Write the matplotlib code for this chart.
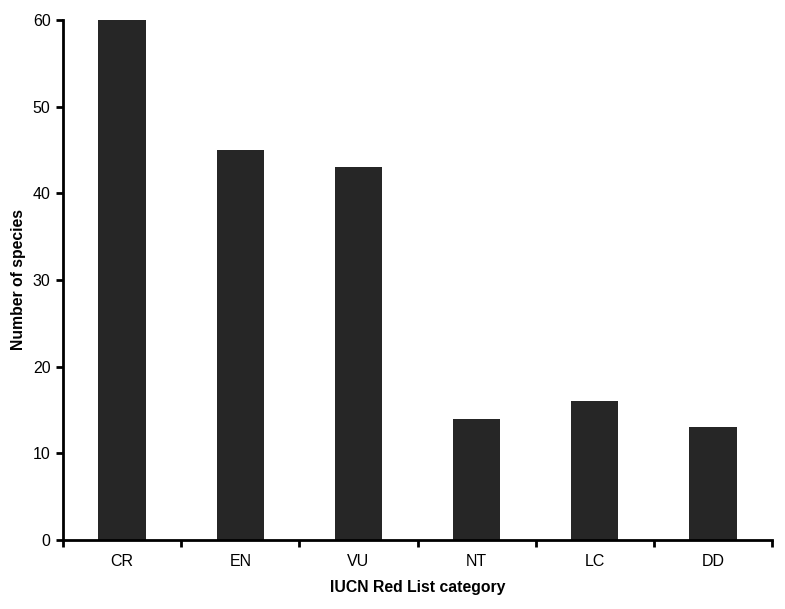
import matplotlib
matplotlib.use("Agg")
import matplotlib.pyplot as plt
import numpy as np

categories = ["CR", "EN", "VU", "NT", "LC", "DD"]
species_counts = [60, 45, 43, 14, 16, 13]

plt.rcParams["font.family"] = ["Liberation Sans", "DejaVu Sans"]

fig = plt.figure(figsize=(7.85, 6.09), dpi=100)
ax = fig.add_axes([0.0803, 0.1133, 0.9031, 0.8539])

x = np.arange(len(categories))
ax.bar(x, species_counts, width=0.40, color="#262626", edgecolor="none")

ax.set_xlim(-0.5, len(categories) - 0.5)
ax.set_ylim(0, 60)
ax.set_yticks(np.arange(0, 61, 10))
ax.set_xticks(x)
ax.set_xticklabels(categories)
ax.set_xticks(np.arange(-0.5, len(categories), 1.0), minor=True)
ax.tick_params(axis="x", which="major", length=0, labelsize=11.5, pad=10)
ax.tick_params(axis="x", which="minor", length=5, width=2, direction="out")
ax.tick_params(axis="y", length=5, width=2, direction="out", labelsize=11.5, pad=4)

for side in ["top", "right"]:
    ax.spines[side].set_visible(False)
for side in ["left", "bottom"]:
    ax.spines[side].set_linewidth(2)

ax.set_xlabel("IUCN Red List category", fontsize=11.3, fontweight="bold", labelpad=8)
ax.set_ylabel("Number of species", fontsize=11.3, fontweight="bold", labelpad=5)

fig.savefig("out.png", dpi=100)
plt.close(fig)
